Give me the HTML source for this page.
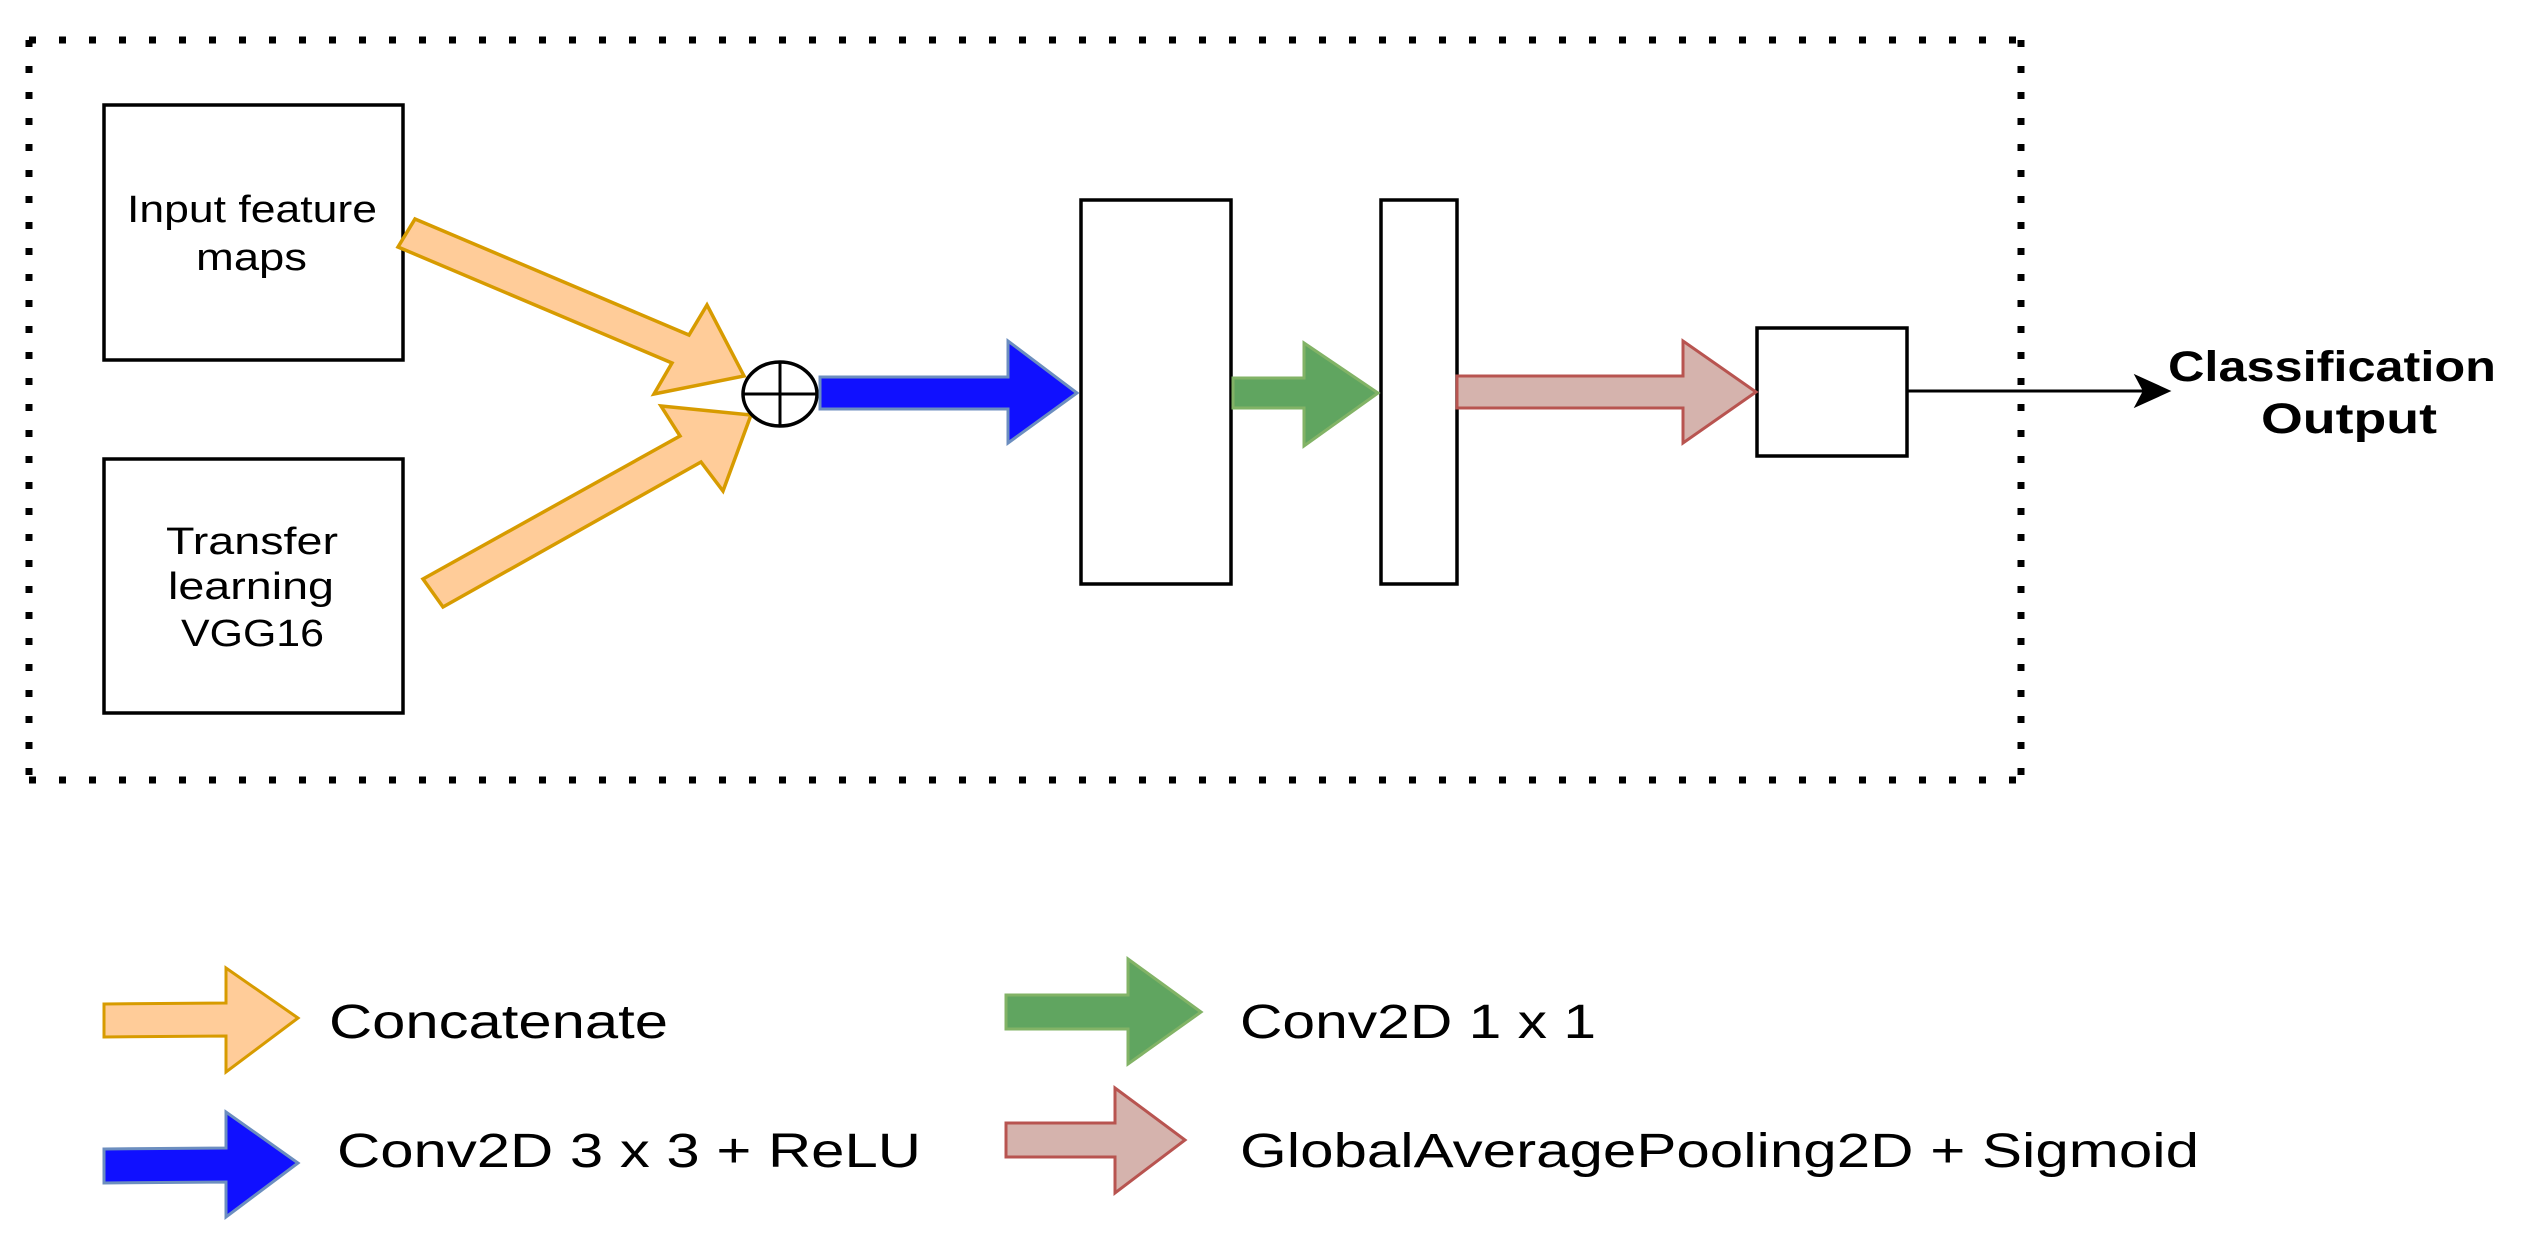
<!DOCTYPE html>
<html><head><meta charset="utf-8"><style>
html,body{margin:0;padding:0;background:#fff;}
svg{display:block;}
text{font-family:"Liberation Sans",Arial,sans-serif;fill:#000;}
</style></head><body>
<svg width="2541" height="1244" viewBox="0 0 2541 1244" xmlns="http://www.w3.org/2000/svg">
<rect x="0" y="0" width="2541" height="1244" fill="#fff"/>
<g stroke="#000" stroke-width="7" fill="none">
<line x1="29" y1="40" x2="2021" y2="40" stroke-dasharray="7 23"/>
<line x1="29" y1="780" x2="2021" y2="780" stroke-dasharray="7 23"/>
<line x1="29" y1="40" x2="29" y2="780" stroke-dasharray="7 19"/>
<line x1="2021" y1="40" x2="2021" y2="780" stroke-dasharray="7 19"/>
</g>
<g stroke="#000" stroke-width="3.5" fill="#fff">
<rect x="104" y="105" width="299" height="255"/>
<rect x="104" y="459" width="299" height="254"/>
<rect x="1081" y="200" width="150" height="384"/>
<rect x="1381" y="200" width="76" height="384"/>
<rect x="1757" y="328" width="150" height="128"/>
</g>
<text x="127" y="222" font-size="38" textLength="250" lengthAdjust="spacingAndGlyphs">Input feature</text>
<text x="196" y="270" font-size="38" textLength="111" lengthAdjust="spacingAndGlyphs">maps</text>
<text x="166" y="554" font-size="38" textLength="172" lengthAdjust="spacingAndGlyphs">Transfer</text>
<text x="168" y="599" font-size="38" textLength="166" lengthAdjust="spacingAndGlyphs">learning</text>
<text x="181" y="646" font-size="38" textLength="143" lengthAdjust="spacingAndGlyphs">VGG16</text>
<g fill="#ffcc99" stroke="#d79b00" stroke-width="3.5" stroke-linejoin="miter">
<polygon points="415,219 689,335 707,305 744,376 654,394 672,363 398,247"/>
<polygon points="423,579 680,436 661,406 751,415 723,491 701,462 443,607"/>
</g>
<ellipse cx="780" cy="394" rx="37" ry="32" fill="#fff" stroke="#000" stroke-width="3.5"/>
<line x1="743" y1="394" x2="817" y2="394" stroke="#000" stroke-width="3"/>
<line x1="780" y1="362" x2="780" y2="426" stroke="#000" stroke-width="3"/>
<polygon points="820,377 1008,377 1008,341 1077,393 1008,443 1008,409 820,409" fill="#1010ff" stroke="#6c8ebf" stroke-width="3"/>
<polygon points="1233,378 1304,378 1304,343 1378,393 1304,446 1304,408 1233,408" fill="#60a560" stroke="#82b366" stroke-width="3"/>
<polygon points="1457,376 1683,376 1683,341 1756,392 1683,443 1683,408 1457,408" fill="#d5b3ad" stroke="#b85450" stroke-width="3"/>
<line x1="1907" y1="391" x2="2150" y2="391" stroke="#000" stroke-width="3"/>
<polygon points="2169,391 2136,376 2144,391 2136,406" fill="#000" stroke="#000" stroke-width="2"/>
<text x="2168" y="381" font-size="43" font-weight="bold" textLength="328" lengthAdjust="spacingAndGlyphs">Classification</text>
<text x="2261" y="433" font-size="43" font-weight="bold" textLength="176" lengthAdjust="spacingAndGlyphs">Output</text>
<polygon points="104,1004 226,1003 226,968 298,1018 226,1072 226,1036 104,1037" fill="#ffcc99" stroke="#d79b00" stroke-width="3"/>
<polygon points="1006,995 1128,995 1128,959 1201,1012 1128,1064 1128,1029 1006,1029" fill="#60a560" stroke="#82b366" stroke-width="3"/>
<polygon points="104,1149 226,1148 226,1112 298,1163 226,1217 226,1182 104,1183" fill="#1010ff" stroke="#6c8ebf" stroke-width="3"/>
<polygon points="1006,1123 1115,1123 1115,1088 1185,1140 1115,1193 1115,1157 1006,1157" fill="#d5b3ad" stroke="#b85450" stroke-width="3"/>
<text x="329" y="1038" font-size="48" textLength="339" lengthAdjust="spacingAndGlyphs">Concatenate</text>
<text x="1240" y="1038" font-size="48" textLength="356" lengthAdjust="spacingAndGlyphs">Conv2D 1 x 1</text>
<text x="337" y="1167" font-size="48" textLength="584" lengthAdjust="spacingAndGlyphs">Conv2D 3 x 3 + ReLU</text>
<text x="1240" y="1167" font-size="48" textLength="959" lengthAdjust="spacingAndGlyphs">GlobalAveragePooling2D + Sigmoid</text>
</svg>
</body></html>
